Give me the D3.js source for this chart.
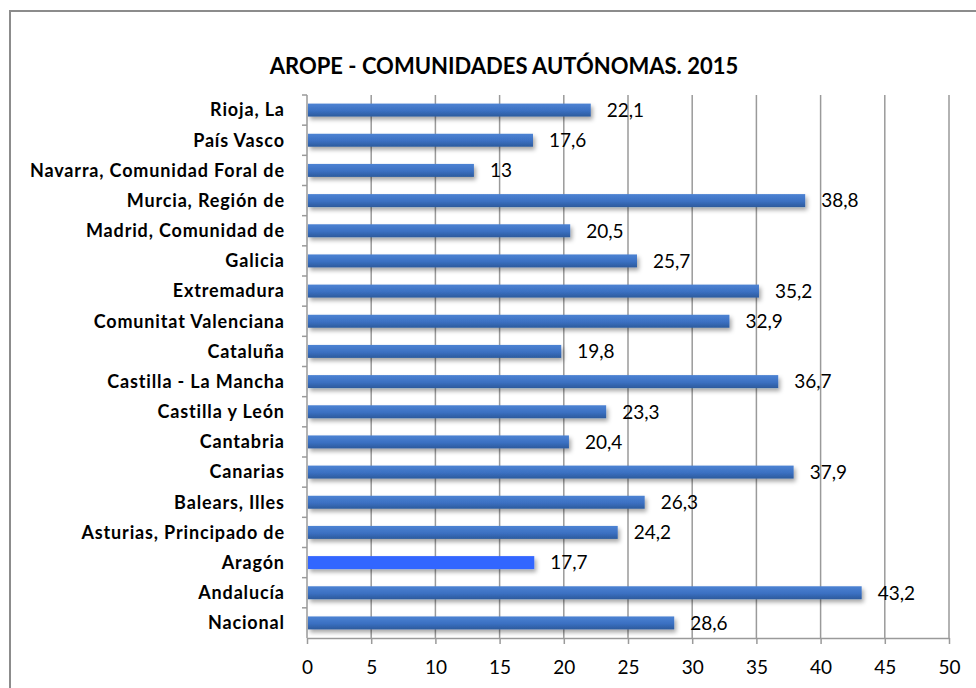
<!DOCTYPE html>
<html>
<head>
<meta charset="utf-8">
<script src="https://cdn.jsdelivr.net/npm/d3@7"></script>
<style>
	body { margin: 0; background: #fff; }
	svg { display: block; font-family: Lato, "Open Sans", sans-serif; }
</style>
</head>
<body>
<svg id="chart" width="976" height="688"></svg>
<script>
// data, top to bottom as in the picture
const regions = [
	'Rioja, La', 'País Vasco', 'Navarra, Comunidad Foral de', 'Murcia, Región de',
	'Madrid, Comunidad de', 'Galicia', 'Extremadura', 'Comunitat Valenciana',
	'Cataluña', 'Castilla - La Mancha', 'Castilla y León', 'Cantabria',
	'Canarias', 'Balears, Illes', 'Asturias, Principado de', 'Aragón',
	'Andalucía', 'Nacional'
];
const aropeValues = [22.1, 17.6, 13, 38.8, 20.5, 25.7, 35.2, 32.9, 19.8, 36.7, 23.3, 20.4, 37.9, 26.3, 24.2, 17.7, 43.2, 28.6];
const highlighted = ['Aragón'];
const xTicks = [0, 5, 10, 15, 20, 25, 30, 35, 40, 45, 50];
const chartTitle = 'AROPE - COMUNIDADES AUTÓNOMAS. 2015';

const rows = regions.map(function(name, i) { return { name: name, value: aropeValues[i] }; });

const svg = d3.select('#chart');
const margin = { left: 307, right: 27, top: 95, bottom: 50 };
const width = 976, height = 688;

const x = d3.scaleLinear().domain([0, 50]).range([margin.left, width - margin.right]);
const y = d3.scaleBand().domain(regions).range([margin.top, height - margin.bottom]).paddingInner(0.57).paddingOuter(0.285);
const band = d3.scaleBand().domain(regions).range([margin.top, height - margin.bottom]);

// defs: gradient + shadow
const defs = svg.append('defs');
const grad = defs.append('linearGradient').attr('id', 'barGrad').attr('x1', 0).attr('y1', 0).attr('x2', 0).attr('y2', 1);
grad.append('stop').attr('offset', '0%').attr('stop-color', '#4d83d3');
grad.append('stop').attr('offset', '55%').attr('stop-color', '#3b70c2');
grad.append('stop').attr('offset', '100%').attr('stop-color', '#2c5a9c');
const shadow = defs.append('filter').attr('id', 'shadow').attr('x', '-5%').attr('y', '-50%').attr('width', '115%').attr('height', '250%');
shadow.append('feDropShadow').attr('dx', 2).attr('dy', 3).attr('stdDeviation', 2)
	.attr('flood-color', '#000').attr('flood-opacity', 0.35);

// outer frame
svg.append('path')
	.attr('d', 'M10,' + (height + 5) + 'V11H' + (width + 5))
	.attr('fill', 'none').attr('stroke', '#8c8c8c').attr('stroke-width', 2);

// title
svg.append('text')
	.attr('x', 504).attr('y', 74)
	.attr('text-anchor', 'middle')
	.attr('font-size', 22).attr('font-weight', 'bold')
	.text(chartTitle);

// gridlines
svg.append('g')
	.selectAll('line').data(xTicks.slice(1)).enter()
	.append('line')
	.attr('x1', function(d) { return x(d); }).attr('x2', function(d) { return x(d); })
	.attr('y1', margin.top).attr('y2', height - margin.bottom)
	.attr('stroke', '#9a9a9a').attr('stroke-width', 1.5);

// x axis
const xAxis = svg.append('g')
	.attr('transform', 'translate(0,' + (height - margin.bottom) + ')')
	.call(d3.axisBottom(x).tickValues(xTicks).tickSize(6).tickPadding(17).tickSizeOuter(0));
xAxis.select('.domain').attr('stroke', '#9a9a9a').attr('stroke-width', 1.5);
xAxis.selectAll('.tick line').attr('stroke', '#9a9a9a').attr('stroke-width', 1.5);
xAxis.selectAll('.tick text').attr('font-size', 19).attr('font-family', 'Lato, sans-serif').attr('fill', '#000');

// y axis (category ticks sit on band edges)
const yAxisG = svg.append('g').attr('transform', 'translate(' + margin.left + ',0)');
yAxisG.append('line')
	.attr('x1', 0).attr('x2', 0)
	.attr('y1', margin.top).attr('y2', height - margin.bottom)
	.attr('stroke', '#9a9a9a').attr('stroke-width', 1.5);
yAxisG.selectAll('line.tick').data(regions).enter()
	.append('line')
	.attr('class', 'tick')
	.attr('x1', -5).attr('x2', 0)
	.attr('y1', function(d) { return band(d); }).attr('y2', function(d) { return band(d); })
	.attr('stroke', '#9a9a9a').attr('stroke-width', 1.5);
const catLabels = yAxisG.selectAll('text').data(regions).enter()
	.append('text')
	.attr('y', function(d) { return band(d) + band.bandwidth() / 2; })
	.attr('dy', '0.35em')
	.attr('text-anchor', 'end')
	.attr('font-size', 18).attr('font-weight', 'bold')
	.text(function(d) { return d; });

// Calibri bold is wider than Lato: stretch spacing so the longest label spans ~254px
var longest = 0;
catLabels.each(function() { longest = Math.max(longest, this.getComputedTextLength()); });
var spacing = Math.max(0, (254 - longest) / 26);
catLabels.attr('letter-spacing', spacing)
	.attr('x', -23 + spacing); // trailing spacing pushes the end left

// bars
svg.append('g')
	.selectAll('rect').data(rows).enter()
	.append('rect')
	.attr('x', x(0) + 1)
	.attr('y', function(d) { return y(d.name); })
	.attr('width', function(d) { return x(d.value) - x(0) - 1; })
	.attr('height', y.bandwidth())
	.attr('fill', function(d) { return highlighted.indexOf(d.name) >= 0 ? '#3366ff' : 'url(#barGrad)'; })
	.attr('filter', 'url(#shadow)');

// value labels
svg.append('g')
	.selectAll('text').data(rows).enter()
	.append('text')
	.attr('x', function(d) { return x(d.value) + 16; })
	.attr('y', function(d) { return y(d.name) + y.bandwidth() / 2; })
	.attr('dy', '0.36em')
	.attr('font-size', 19)
	.text(function(d) { return String(d.value).replace('.', ','); });
</script>
</body>
</html>
